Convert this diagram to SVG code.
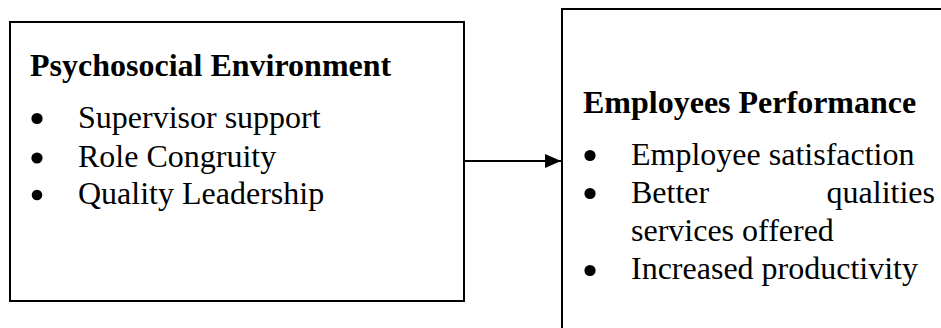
<svg xmlns="http://www.w3.org/2000/svg" width="941" height="328" viewBox="0 0 941 328">
<style>
.box{fill:#fff;stroke:#000;stroke-width:2}
.h{font-family:"Liberation Serif","Times New Roman",serif;font-weight:bold;font-size:32px;fill:#000}
.t{font-family:"Liberation Serif","Times New Roman",serif;font-size:32px;fill:#000}
.dot{fill:#000}
.conn{stroke:#000;stroke-width:2;fill:none}
</style>
<defs>
<marker id="arrow" markerWidth="16" markerHeight="14" refX="16" refY="7" orient="auto" markerUnits="userSpaceOnUse">
<path d="M0,0 L16,7 L0,14 Z" fill="#000"/>
</marker>
</defs>
<g id="node-psychosocial">
<rect class="box" x="10" y="22" width="454" height="279"/>
<text class="h" x="30" y="76">Psychosocial Environment</text>
<circle class="dot" cx="37" cy="118.5" r="5.6"/>
<text class="t" x="78" y="128">Supervisor support</text>
<circle class="dot" cx="37" cy="158" r="5.6"/>
<text class="t" x="78" y="167">Role Congruity</text>
<circle class="dot" cx="37" cy="195" r="5.3"/>
<text class="t" x="78" y="204">Quality Leadership</text>
</g>
<g id="node-performance">
<rect class="box" x="562" y="9" width="400" height="340"/>
<text class="h" x="583" y="113">Employees Performance</text>
<circle class="dot" cx="590" cy="155.5" r="5.6"/>
<text class="t" x="631" y="165">Employee satisfaction</text>
<circle class="dot" cx="590" cy="193.5" r="5.6"/>
<text class="t" x="631" y="203">Better</text>
<text class="t" x="935" y="203" text-anchor="end">qualities</text>
<text class="t" x="631" y="241">services offered</text>
<circle class="dot" cx="590" cy="270.5" r="5.6"/>
<text class="t" x="631" y="279">Increased productivity</text>
</g>
<g id="connectors">
<line class="conn" x1="465" y1="161" x2="561" y2="161" marker-end="url(#arrow)"/>
</g>
</svg>
